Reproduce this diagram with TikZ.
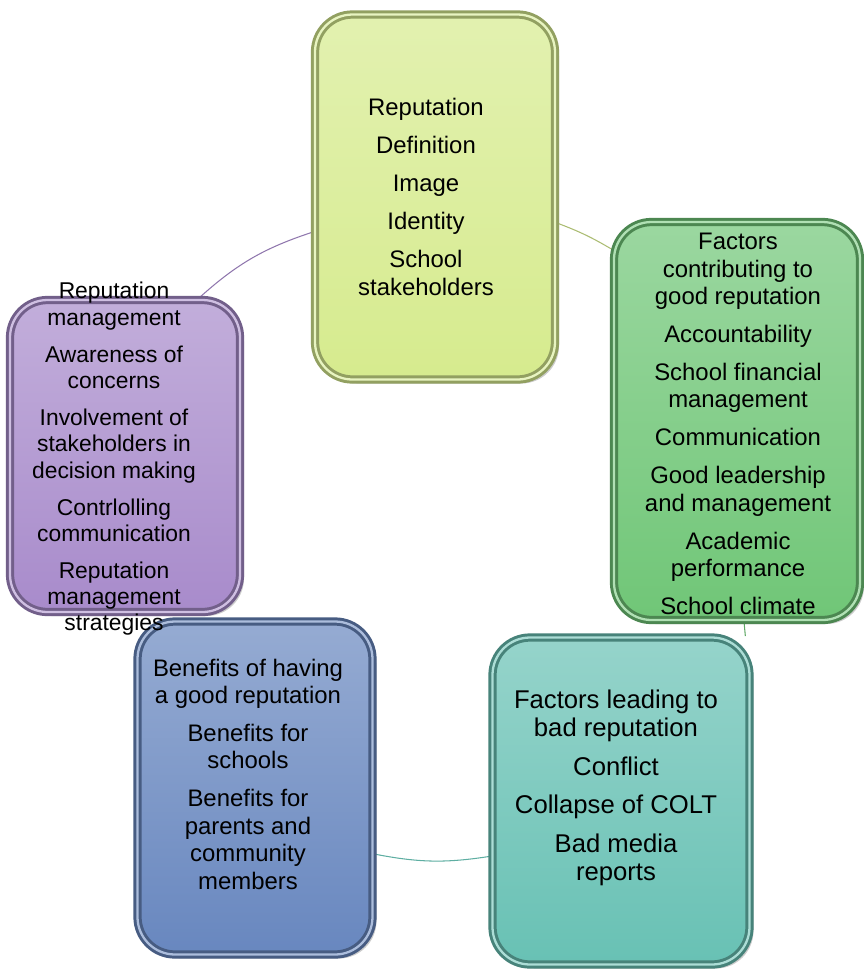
\documentclass[tikz,border=0pt]{standalone}
\usepackage{fontspec}
\setmainfont{Liberation Sans}
\usetikzlibrary{shadows,backgrounds}

\definecolor{repcol}{HTML}{D6EB8E}
\definecolor{goodcol}{HTML}{70C677}
\definecolor{badcol}{HTML}{68C1B4}
\definecolor{benecol}{HTML}{6887BF}
\definecolor{mgmtcol}{HTML}{A88BCB}

\tikzset{
  topic/.style={draw=#1!68!black, line width=1.7pt, double=#1!55!white,
    double distance=1.3pt, rounded corners=0.75cm,
    top color=#1!70!white, bottom color=#1,
    drop shadow={shadow xshift=0.08cm, shadow yshift=-0.08cm, opacity=0.4}},
  items/.style={align=center, inner sep=0pt, font=\fontsize{13.6}{15.6}\selectfont},
  link/.style={line width=0.6pt},
}

\begin{document}
\begin{tikzpicture}
\useasboundingbox (0,0) rectangle (17.28,-19.5);

% boxes
\node[topic=repcol,minimum width=4.8cm,minimum height=7.3cm] (rep) at (8.70,-3.94) {};
\node[topic=goodcol,minimum width=4.92cm,minimum height=7.96cm] (good) at (14.74,-8.42) {};
\node[topic=badcol,minimum width=5.14cm,minimum height=6.54cm] (bad) at (12.42,-16.02) {};
\node[topic=benecol,minimum width=4.7cm,minimum height=6.66cm] (bene) at (5.10,-15.76) {};
\node[topic=mgmtcol,minimum width=4.6cm,minimum height=6.24cm] (mgmt) at (2.50,-9.12) {};

% arcs between the boxes
\begin{scope}[on background layer]
\draw[link,draw=mgmtcol!85!black] (mgmt.65) to[bend left=12] (rep.196);
\draw[link,draw=repcol!80!black] (rep.-12) to[bend left=5] (good.126);
\draw[link,draw=goodcol!85!black] (good.272) to (bad.53);
\draw[link,draw=badcol!90!black] (bad.203) to[bend left=10] (bene.331);
\end{scope}

% texts
\node[items] (rep-txt) at (8.52,-3.94) {Reputation\\[6pt] Definition\\[6pt] Image\\[6pt] Identity\\[6pt] School\\ stakeholders};
\node[items] (good-txt) at (14.76,-8.48) {Factors\\ contributing to\\ good reputation\\[6pt] Accountability\\[6pt] School financial\\ management\\[6pt] Communication\\[6pt] Good leadership\\ and management\\[6pt] Academic\\ performance\\[6pt] School climate};
\node[items,font=\fontsize{14.6}{16}\selectfont] (bad-txt) at (12.32,-15.76) {Factors leading to\\ bad reputation\\[6pt] Conflict\\[6pt] Collapse of COLT\\[6pt] Bad media\\ reports};
\node[items] (bene-txt) at (4.96,-15.48) {Benefits of having\\ a good reputation\\[6pt] Benefits for\\ schools\\[6pt] Benefits for\\ parents and\\ community\\ members};
\node[items,font=\fontsize{13}{15}\selectfont] (mgmt-txt) at (2.28,-9.18) {Reputation\\ management\\[6pt] Awareness of\\ concerns\\[6pt] Involvement of\\ stakeholders in\\ decision making\\[6pt] Contrlolling\\ communication\\[6pt] Reputation\\ management\\ strategies};
\end{tikzpicture}
\end{document}
